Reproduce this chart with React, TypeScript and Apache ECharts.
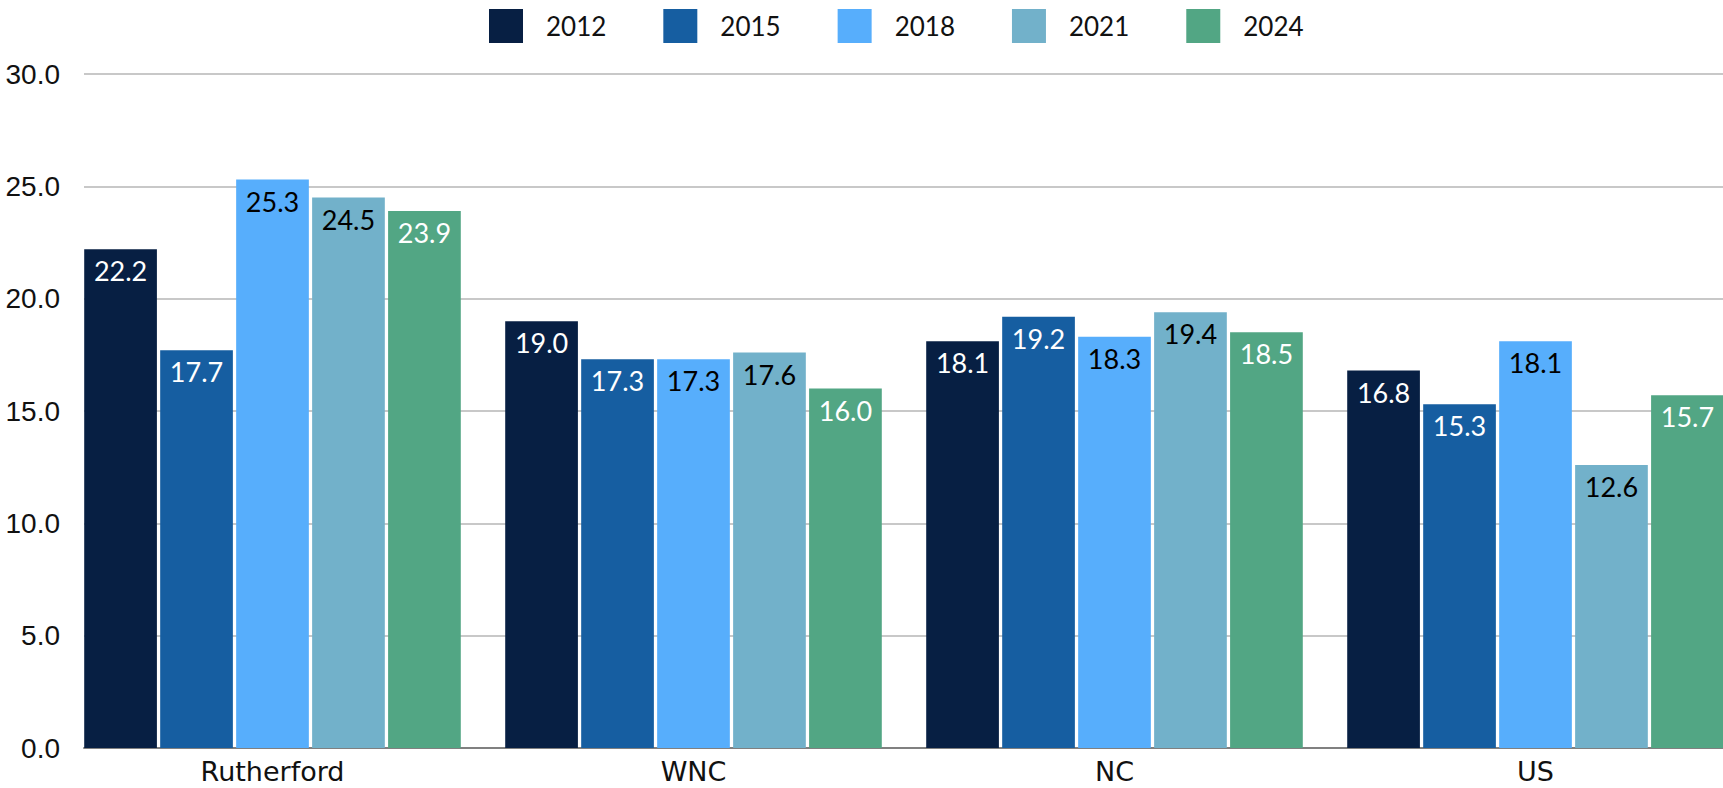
import React, { useEffect, useRef } from "react";
import * as echarts from "echarts";

const categories = ["Rutherford", "WNC", "NC", "US"];
const years = ["2012", "2015", "2018", "2021", "2024"];
const values2012 = [22.2, 19.0, 18.1, 16.8];
const values2015 = [17.7, 17.3, 19.2, 15.3];
const values2018 = [25.3, 17.3, 18.3, 18.1];
const values2021 = [24.5, 17.6, 19.4, 12.6];
const values2024 = [23.9, 16.0, 18.5, 15.7];
const seriesValues = [values2012, values2015, values2018, values2021, values2024];
const colors = ["#071F43", "#165EA1", "#57AEFC", "#72B1CA", "#52A684"];
const labelColors = ["#ffffff", "#ffffff", "#000000", "#000000", "#ffffff"];

const CHART_W = 1780;
const VIEW_W = 1723;

export default function App() {
  const ref = useRef<HTMLDivElement>(null);
  useEffect(() => {
    if (!ref.current) return;
    const chart = echarts.init(ref.current, undefined, { renderer: "svg" });
    const labelFont = "Lato, sans-serif";
    chart.setOption({
      animation: false,
      backgroundColor: "#ffffff",
      legend: {
        top: 4,
        left: 484,
        itemWidth: 34,
        itemHeight: 34,
        itemGap: 57,
        icon: "rect",
        itemStyle: { borderRadius: 3 },
        textStyle: {
          fontFamily: labelFont,
          fontSize: 26,
          color: "#111111",
          padding: [0, 0, 0, 18],
        },
        data: years,
      },
      grid: [
        { left: 84, right: CHART_W - VIEW_W, top: 74, bottom: 40, containLabel: false },
        { left: 62, width: 1684, top: 74, bottom: 40, containLabel: false },
      ],
      xAxis: [
        {
          gridIndex: 0,
          type: "category",
          data: categories,
          axisLine: { show: true, lineStyle: { color: "#808080", width: 2 } },
          axisTick: { show: false },
          axisLabel: { show: false },
          splitLine: { show: false },
        },
        {
          gridIndex: 1,
          type: "category",
          data: categories,
          axisLine: { show: false },
          axisTick: { show: false },
          axisLabel: {
            show: true,
            margin: 10,
            fontFamily: "DejaVu Sans, sans-serif",
            fontSize: 27,
            lineHeight: 27,
            color: "#111111",
          },
          splitLine: { show: false },
        },
      ],
      yAxis: [
        {
          gridIndex: 0,
          type: "value",
          min: 0,
          max: 30,
          interval: 5,
          axisLine: { show: false },
          axisTick: { show: false },
          axisLabel: {
            margin: 24,
            fontFamily: "Liberation Sans, Arial, sans-serif",
            fontSize: 28,
            color: "#111111",
            formatter: (v: number) => v.toFixed(1),
          },
          splitLine: { show: true, lineStyle: { color: "#C8C8C8", width: 2 } },
        },
        {
          gridIndex: 1,
          type: "value",
          min: 0,
          max: 30,
          interval: 5,
          show: false,
          splitLine: { show: false },
        },
      ],
      series: years.map((y, i) => ({
        name: y,
        type: "bar",
        xAxisIndex: 1,
        yAxisIndex: 1,
        data: seriesValues[i],
        barWidth: 72.7,
        barGap: "4.5%",
        itemStyle: { color: colors[i] },
        label: {
          show: true,
          position: "insideTop",
          distance: 8,
          fontFamily: labelFont,
          fontSize: 27,
          color: labelColors[i],
          formatter: (p: any) => Number(p.value).toFixed(1),
        },
      })),
    });
    return () => chart.dispose();
  }, []);
  return (
    <div
      style={{
        position: "absolute",
        left: 0,
        top: 0,
        width: VIEW_W,
        height: 788,
        overflow: "hidden",
        background: "#ffffff",
      }}
    >
      <div ref={ref} style={{ width: CHART_W, height: 788 }} />
    </div>
  );
}
